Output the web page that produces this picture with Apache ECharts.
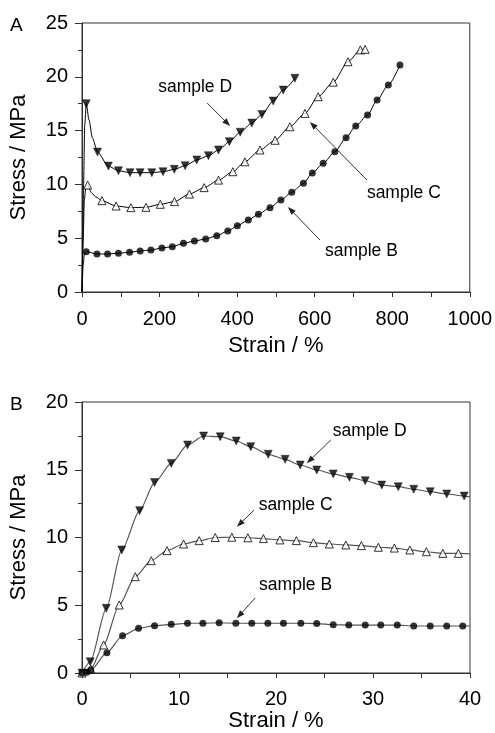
<!DOCTYPE html>
<html><head><meta charset="utf-8">
<script src="https://cdn.jsdelivr.net/npm/echarts@6/dist/echarts.min.js"></script>
<style>html,body{margin:0;padding:0;background:#fff}#c{width:495px;height:733px}</style>
</head><body><div id="c"></div>
<script>
// ---------- Panel A (strain 0-1000 %) ----------
const A_D_markers = [[11,17.5],[40,13.0],[68,11.7],[94,11.27],[124,11.09],[150,11.09],[180,11.09],[209,11.18],[238,11.4],[266,11.74],[296,12.27],[326,12.67],[352,13.2],[380,13.97],[408,14.85],[438,15.7],[464,16.5],[493,17.75],[519,18.77],[549,19.86]];
const A_D_curve = [[0,0],[2,4],[4,10],[7,15.5],[18,16.0],[27,14.3]];
const A_C_markers = [[14.5,9.94],[51.5,8.49],[88,7.99],[126,7.84],[165,7.87],[202,8.15],[238.5,8.4],[277,9.1],[315,9.7],[352,10.4],[389,11.18],[420,12.1],[459,13.2],[498,14.1],[536,15.36],[575,16.6],[609,18.15],[648,19.5],[686,21.4],[718,22.5],[730,22.55]];
const A_C_curve = [[0,0],[3,5],[6,8.5],[10,9.8],[25,9.2],[35,8.85]];
const A_B_markers = [[11,3.75],[38.6,3.53],[66,3.53],[94,3.6],[122.6,3.69],[150,3.81],[177.7,3.9],[206,4.09],[233,4.21],[261.6,4.52],[290,4.74],[319,4.93],[347.6,5.23],[376,5.67],[400.7,6.16],[429,6.69],[455,7.22],[485,7.84],[513,8.55],[541,9.27],[571,10.1],[594,11.05],[622,11.96],[652,13.04],[681,14.34],[706,15.43],[736.5,16.45],[761,17.84],[790,19.24],[820,21.1]];
const A_B_curve = [[0,0],[3,2.5],[6,3.5]];

// ---------- Panel B (strain 0-40 %) ----------
const B_D_markers = [[0,0],[0.85,0.83],[2.5,4.77],[4.1,9.08],[5.94,11.98],[7.48,14.05],[9.2,15.47],[10.88,16.83],[12.53,17.49],[14.25,17.44],[15.9,17.12],[17.4,16.7],[19.2,16.14],[20.94,15.77],[22.5,15.35],[24.2,14.98],[25.9,14.69],[27.57,14.44],[29.2,14.19],[30.9,13.87],[32.6,13.75],[34.2,13.56],[35.9,13.38],[37.6,13.21],[39.4,13.06]];
const B_D_curve = [[40,13.0]];
const B_C_markers = [[0,0],[0.9,0.3],[2.23,2.07],[3.84,5.02],[5.49,7.11],[7.14,8.29],[8.76,9.03],[10.47,9.52],[12.08,9.77],[13.73,10.0],[15.45,10.02],[17.1,9.98],[18.7,9.92],[20.4,9.82],[22.1,9.77],[23.86,9.62],[25.5,9.52],[27.2,9.45],[28.8,9.4],[30.55,9.28],[32.2,9.22],[33.8,9.08],[35.5,8.95],[37.2,8.83],[38.8,8.83]];
const B_C_curve = [[40,8.8]];
const B_B_markers = [[0,0],[0.5,0.05],[0.9,0.22],[2.57,1.5],[4.18,2.75],[5.83,3.3],[7.48,3.49],[9.2,3.59],[10.88,3.67],[12.46,3.67],[14.14,3.71],[15.86,3.67],[17.5,3.67],[19.16,3.67],[20.77,3.67],[22.56,3.67],[24.2,3.65],[25.9,3.56],[27.5,3.54],[29.2,3.54],[30.8,3.54],[32.5,3.54],[34.2,3.47],[35.9,3.47],[37.6,3.47],[39.25,3.47]];
const B_B_curve = [[40,3.47]];

// axis ranges / ticks
const axisA = {xMin:0, xMax:1000, xStep:200, yMin:0, yMax:25, yStep:5};
const axisB = {xMin:0, xMax:40, xStep:10, yMin:0, yMax:20, yStep:5};

// annotations (data coordinates)
const annA = [
  {text:'sample D', at:[291.8,19.08], from:[322.7,17.57], to:[381.9,15.43]},
  {text:'sample C', at:[830,9.15], from:[734.7,10.41], to:[587.9,15.80]},
  {text:'sample B', at:[720.6,3.81], from:[613.7,4.83], to:[531.3,7.90]}
];
const annB = [
  {text:'sample D', at:[29.65,17.82], from:[25.65,17.2], to:[23.18,15.48]},
  {text:'sample C', at:[22.02,12.4], from:[17.75,12.03], to:[15.97,10.80]},
  {text:'sample B', at:[22.02,6.49], from:[17.85,5.54], to:[15.97,4.04]}
];

const FONT = '"Liberation Sans", Arial, Helvetica, sans-serif';
const AX = '#333';
function merge(a,b){return a.concat(b).sort((p,q)=>p[0]-q[0]);}

function xAx(g, r, gap, margin){
  return {type:'value', gridIndex:g, min:r.xMin, max:r.xMax, interval:r.xStep,
    axisLine:{show:true, onZero:false, lineStyle:{color:AX,width:1}},
    axisTick:{show:true, length:5, lineStyle:{color:AX,width:1}},
    minorTick:{show:true, splitNumber:2, length:5, lineStyle:{color:AX,width:1}},
    splitLine:{show:false}, minorSplitLine:{show:false},
    axisLabel:{color:'#000', fontSize:20, fontFamily:FONT, margin:margin, formatter:v=>String(v)},
    name:'Strain / %', nameLocation:'middle', nameGap:gap,
    nameTextStyle:{color:'#000', fontSize:22, fontFamily:FONT}};
}
function yAx(g, r){
  return {type:'value', gridIndex:g, min:r.yMin, max:r.yMax, interval:r.yStep,
    axisLine:{show:true, onZero:false, lineStyle:{color:AX,width:1}},
    axisTick:{show:true, length:7, lineStyle:{color:AX,width:1}},
    minorTick:{show:true, splitNumber:2, length:4, lineStyle:{color:AX,width:1}},
    splitLine:{show:false}, minorSplitLine:{show:false},
    axisLabel:{color:'#000', fontSize:20, fontFamily:FONT, margin:14, formatter:v=>String(v)},
    name:'Stress / MPa', nameLocation:'middle', nameGap:52,
    nameTextStyle:{color:'#000', fontSize:22, fontFamily:FONT}};
}

const sym = {
  D:{symbol:'triangle', symbolRotate:180, symbolSize:8, itemStyle:{color:'#000', borderColor:'#000', borderWidth:0.5}},
  C:{symbol:'triangle', symbolRotate:0, symbolSize:8, itemStyle:{color:'#fff', borderColor:'#000', borderWidth:1}},
  B:{symbol:'circle', symbolRotate:0, symbolSize:7, itemStyle:{color:'#000', borderColor:'#000', borderWidth:0}}
};

const series = [];
function addSample(g, key, markers, curve, lineColor, lw){
  series.push({type:'line', xAxisIndex:g, yAxisIndex:g, data:merge(markers,curve),
    showSymbol:false, smooth:0.25, smoothMonotone:'x', silent:true,
    lineStyle:{color:lineColor, width:lw}, z:2});
  series.push(Object.assign({type:'scatter', xAxisIndex:g, yAxisIndex:g, data:markers, silent:true, z:3}, sym[key]));
}
addSample(0,'D',A_D_markers,A_D_curve,'#000',1);
addSample(0,'C',A_C_markers,A_C_curve,'#000',1);
addSample(0,'B',A_B_markers,A_B_curve,'#000',1);
addSample(1,'D',B_D_markers,B_D_curve,'#555',1.2);
addSample(1,'C',B_C_markers,B_C_curve,'#555',1.2);
addSample(1,'B',B_B_markers,B_B_curve,'#555',1.2);

const chart = echarts.init(document.getElementById('c'), null, {renderer:'canvas'});
chart.setOption({
  animation:false,
  backgroundColor:'#fff',
  grid:[
    {left:82, right:25, top:23, height:269, show:true, borderColor:AX, borderWidth:1, backgroundColor:'transparent'},
    {left:82, right:25, top:402, height:271, show:true, borderColor:AX, borderWidth:1, backgroundColor:'transparent'}
  ],
  xAxis:[xAx(0,axisA,43,17), xAx(1,axisB,37,16)],
  yAxis:[yAx(0,axisA), yAx(1,axisB)],
  series:series
});

const gfx = [
  {type:'text', left:10, top:16, style:{text:'A', fontSize:19, fontFamily:FONT, fill:'#000'}},
  {type:'text', left:10, top:395, style:{text:'B', fontSize:19, fontFamily:FONT, fill:'#000'}}
];
function addAnn(list, g){
  list.forEach(a=>{
    const t = chart.convertToPixel({gridIndex:g}, a.at);
    const p0 = chart.convertToPixel({gridIndex:g}, a.from);
    const p1 = chart.convertToPixel({gridIndex:g}, a.to);
    gfx.push({type:'text', x:t[0], y:t[1], style:{text:a.text, fontSize:17.5, fontFamily:FONT, fill:'#000', align:'center', verticalAlign:'middle'}});
    const dx = p1[0]-p0[0], dy = p1[1]-p0[1], L = Math.hypot(dx,dy), ux = dx/L, uy = dy/L;
    const hl = 8, hw = 3;
    const bx = p1[0]-ux*hl, by = p1[1]-uy*hl;
    gfx.push({type:'line', shape:{x1:p0[0], y1:p0[1], x2:bx+ux*2, y2:by+uy*2}, style:{stroke:'#333', lineWidth:1}});
    gfx.push({type:'polygon', shape:{points:[[p1[0],p1[1]],[bx-uy*hw,by+ux*hw],[bx+uy*hw,by-ux*hw]]}, style:{fill:'#222'}});
  });
}
addAnn(annA,0);
addAnn(annB,1);
chart.setOption({graphic:gfx});
</script>
</body></html>
